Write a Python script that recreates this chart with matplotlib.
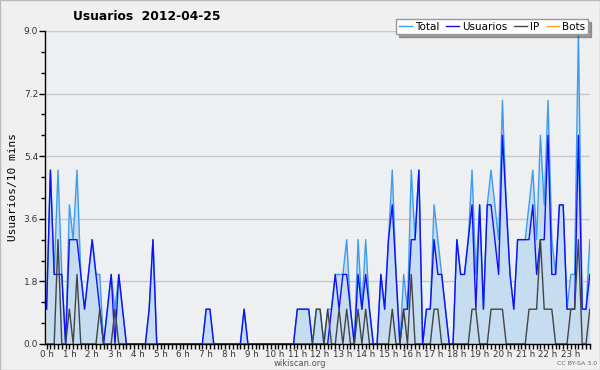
import numpy as np
import matplotlib
matplotlib.use('Agg')
import matplotlib.pyplot as plt
from matplotlib.ticker import MultipleLocator

# valores cada 10 minutos (144 puntos)
usuarios = [1, 5, 2, 2, 2, 0, 3, 3, 3, 2,
            1, 2, 3, 2, 1, 0, 1, 2, 0, 2,
            1, 0, 0, 0, 0, 0, 0, 1, 3, 0,
            0, 0, 0, 0, 0, 0, 0, 0, 0, 0,
            0, 0, 1, 1, 0, 0, 0, 0, 0, 0,
            0, 0, 1, 0, 0, 0, 0, 0, 0, 0,
            0, 0, 0, 0, 0, 0, 1, 1, 1, 1,
            0, 0, 0, 0, 0, 1, 2, 1, 2, 2,
            1, 0, 2, 1, 2, 1, 0, 0, 2, 1,
            3, 4, 2, 0, 1, 1, 3, 3, 5, 0,
            1, 1, 3, 2, 2, 1, 0, 0, 3, 2,
            2, 3, 4, 1, 4, 1, 4, 4, 3, 2,
            6, 4, 2, 1, 3, 3, 3, 3, 4, 2,
            3, 3, 6, 2, 2, 4, 4, 1, 1, 1,
            6, 1, 1, 2]
ip = [0, 0, 0, 3, 0, 0, 1, 0, 2, 0,
      0, 0, 0, 0, 1, 0, 0, 0, 1, 0,
      0, 0, 0, 0, 0, 0, 0, 0, 0, 0,
      0, 0, 0, 0, 0, 0, 0, 0, 0, 0,
      0, 0, 0, 0, 0, 0, 0, 0, 0, 0,
      0, 0, 0, 0, 0, 0, 0, 0, 0, 0,
      0, 0, 0, 0, 0, 0, 0, 0, 0, 0,
      0, 1, 1, 0, 1, 0, 0, 1, 0, 1,
      0, 0, 1, 0, 1, 0, 0, 0, 0, 0,
      0, 1, 0, 0, 1, 0, 2, 0, 0, 0,
      0, 0, 1, 1, 0, 0, 0, 0, 0, 0,
      0, 0, 1, 1, 0, 0, 0, 1, 1, 1,
      1, 0, 0, 0, 0, 0, 0, 1, 1, 1,
      3, 1, 1, 1, 0, 0, 0, 0, 1, 1,
      3, 0, 0, 1]
total = [1, 5, 2, 5, 2, 0, 4, 3, 5, 2,
         1, 2, 3, 2, 2, 0, 1, 2, 1, 2,
         1, 0, 0, 0, 0, 0, 0, 1, 3, 0,
         0, 0, 0, 0, 0, 0, 0, 0, 0, 0,
         0, 0, 1, 1, 0, 0, 0, 0, 0, 0,
         0, 0, 1, 0, 0, 0, 0, 0, 0, 0,
         0, 0, 0, 0, 0, 0, 1, 1, 1, 1,
         0, 1, 1, 0, 1, 1, 2, 2, 2, 3,
         1, 0, 3, 1, 3, 1, 0, 0, 2, 1,
         3, 5, 2, 0, 2, 1, 5, 3, 5, 0,
         1, 1, 4, 3, 2, 1, 0, 0, 3, 2,
         2, 3, 5, 2, 4, 1, 4, 5, 4, 3,
         7, 4, 2, 1, 3, 3, 3, 4, 5, 3,
         6, 4, 7, 3, 2, 4, 4, 1, 2, 2,
         9, 1, 1, 3]
bots = [0] * 144

y_ticks = [0.0, 1.8, 3.6, 5.4, 7.2, 9.0]
hour_labels = ['%d h' % h for h in range(24)]

x = np.arange(len(total)) / 6.0

fig = plt.figure(figsize=(6, 3.7), dpi=100, facecolor='#f0f0f0')
ax = fig.add_axes([0.075, 0.0703, 0.908, 0.846])
ax.set_facecolor('#eeeff1')

ax.fill_between(x, total, color='#c6dcf0', lw=0)
ax.plot(x, total, color='#3d9cf0', lw=1.0, label='Total')
ax.plot(x, usuarios, color='#1010ff', lw=1.0, label='Usuarios')
ax.plot(x, ip, color='#444444', lw=1.0, label='IP')
ax.plot(x, bots, color='#ffa020', lw=1.0, label='Bots', zorder=1.8)

ax.set_xlim(-0.07, 143 / 6.0)
ax.set_ylim(0, 9)
ax.set_yticks(y_ticks)
ax.set_yticklabels(['%.1f' % v for v in y_ticks])
ax.yaxis.set_minor_locator(MultipleLocator(0.6))
ax.set_xticks(range(24))
ax.set_xticklabels(hour_labels)
ax.xaxis.set_minor_locator(MultipleLocator(1 / 6.0))

ax.grid(axis='y', color='#c8c8c8', lw=1)
ax.set_axisbelow(True)
for s in ['top', 'right']:
    ax.spines[s].set_visible(False)
for s in ['left', 'bottom']:
    ax.spines[s].set_color('black')
    ax.spines[s].set_linewidth(1)
    ax.spines[s].set_zorder(3)

ax.tick_params(axis='both', which='both', direction='out', colors='black',
               labelsize=6.5, pad=1, width=1)
ax.tick_params(axis='y', which='major', length=4, labelcolor='#333333')
ax.tick_params(axis='y', which='minor', length=3)
ax.tick_params(axis='x', which='both', length=3.5, labelcolor='#333333', labelsize=6.3, pad=0.5)

ax.set_ylabel('Usuarios/10 mins', family='DejaVu Sans Mono', fontsize=8, labelpad=4)

fig.text(147 / 600, 1 - 17 / 370, 'Usuarios  2012-04-25', ha='center', va='center',
         fontsize=8.8, weight='bold')
fig.text(0.5, 0.018, 'wikiscan.org', ha='center', va='center', fontsize=6, color='#555555')
fig.text(0.995, 0.018, 'CC BY-SA 3.0', ha='right', va='center', fontsize=4.5, color='#666666')

fig.legend(loc='upper right', bbox_to_anchor=(588 / 600, 1 - 19 / 370), ncol=4,
           fontsize=7.5, frameon=True, fancybox=False, shadow=True, edgecolor='#999999',
           handlelength=1.2, handletextpad=0.3, columnspacing=0.7, borderpad=0.25,
           borderaxespad=0)

fig.add_artist(plt.Rectangle((0, 0), 1, 1, fill=False, edgecolor='#bbbbbb', lw=1,
                             transform=fig.transFigure))

fig.savefig('out.png', dpi=100, facecolor=fig.get_facecolor())
